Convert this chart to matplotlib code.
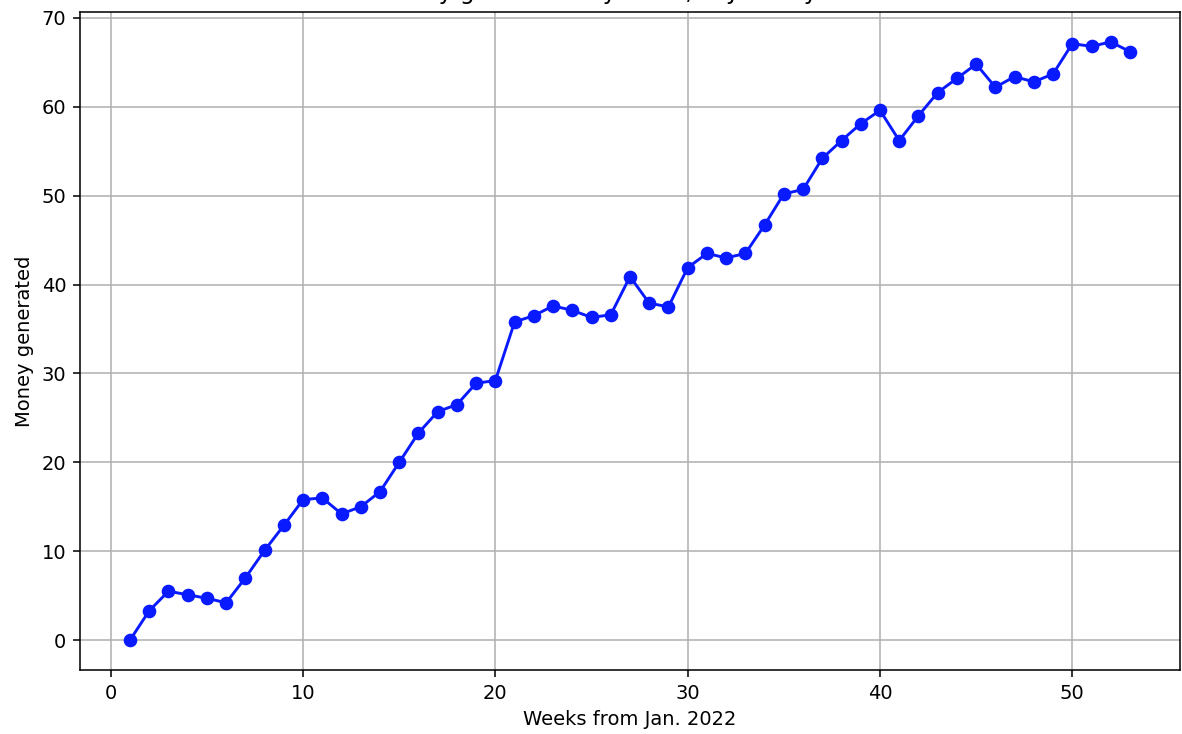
import numpy as np
import matplotlib
matplotlib.use('Agg')
import matplotlib.pyplot as plt

# weekly values
weeks = list(range(1, 54))
money = [0.0, 3.3, 5.5, 5.1, 4.7, 4.2, 7.0, 10.1, 12.9, 15.8,
         16.0, 14.2, 15.0, 16.7, 20.0, 23.3, 25.7, 26.5, 28.9, 29.2,
         35.8, 36.5, 37.6, 37.1, 36.3, 36.6, 40.9, 37.9, 37.5, 41.9,
         43.5, 43.0, 43.5, 46.7, 50.2, 50.7, 54.2, 56.2, 58.1, 59.6,
         56.2, 59.0, 61.6, 63.2, 64.8, 62.2, 63.4, 62.8, 63.7, 67.1,
         66.8, 67.3, 66.2]

dpi = 140
fig = plt.figure(figsize=(1182 / dpi, 734 / dpi), dpi=dpi)
ax = fig.add_axes([80 / 1182, 1 - 670 / 734, 1100 / 1182, 658 / 734])

ax.plot(weeks, money, 'o-', color='#0a1aff')
ax.grid(True)
# the reference is cropped so only the descenders of the title show
ax.set_title('Money generated by week, in January 2022', pad=6.5)
ax.set_xlabel('Weeks from Jan. 2022')
ax.set_ylabel('Money generated')

fig.savefig('out.png', dpi=dpi)
